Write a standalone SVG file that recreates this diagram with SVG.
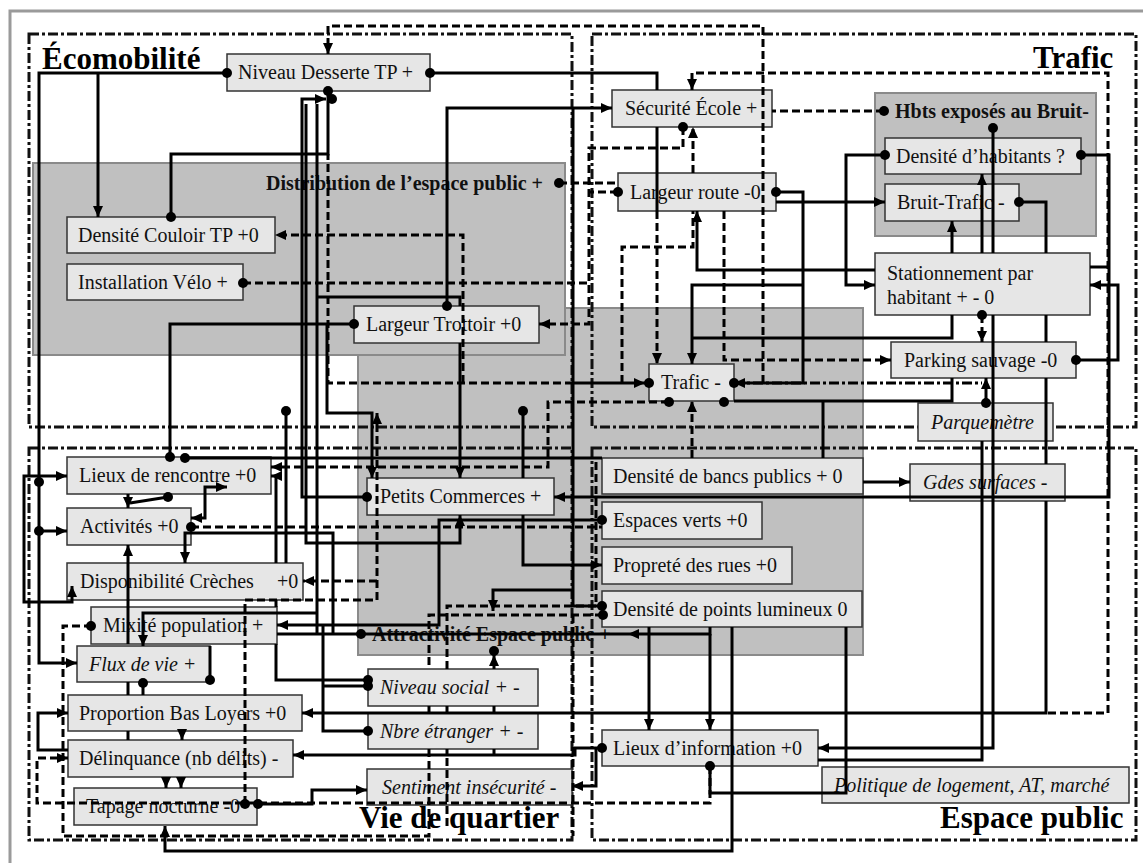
<svg xmlns="http://www.w3.org/2000/svg" width="1143" height="863" viewBox="0 0 1143 863">
<defs>
<style>
.zone{fill:#c0c0c0;stroke:#8a8a8a;stroke-width:2}
.frame{fill:none;stroke:#111;stroke-width:3;stroke-dasharray:10 3 3 3}
.node rect{fill:#e6e6e6;stroke:#333;stroke-width:1.5}
.node text{font-family:"Liberation Serif","Times New Roman",serif;font-size:20px;fill:#111}
.node text.it{font-style:italic}
.title{font-family:"Liberation Serif","Times New Roman",serif;font-size:31px;font-weight:bold;fill:#000}
.zlabel{font-family:"Liberation Serif","Times New Roman",serif;font-size:20px;font-weight:bold;fill:#111}
.s,.d,.dd{fill:none;stroke:#000;stroke-width:3}
.d{stroke-dasharray:8 4}
.dd{stroke-dasharray:10 3 3 3}
.a{marker-end:url(#arr)}
.o{marker-start:url(#dot)}
.oe{marker-end:url(#dot)}
.as{marker-start:url(#arr)}
</style>
<marker id="arr" viewBox="0 0 11 10" refX="11" refY="5" markerWidth="11" markerHeight="10" markerUnits="userSpaceOnUse" orient="auto-start-reverse"><path d="M0,0 L11,5 L0,10 z" fill="#000"/></marker>
<marker id="dot" viewBox="0 0 10 10" refX="5" refY="5" markerWidth="10" markerHeight="10" markerUnits="userSpaceOnUse"><circle cx="5" cy="5" r="5" fill="#000"/></marker>
</defs>

<rect width="1143" height="863" fill="#fff"/>
<path d="M10,863 V11 H1143" fill="none" stroke="#9a9a9a" stroke-width="3"/>

<!-- shaded zones -->
<g id="zone-attractivite"><rect class="zone" x="358" y="308" width="505" height="347"/></g>
<g id="zone-distribution"><rect class="zone" x="33" y="163" width="532" height="192"/>
<text class="zlabel" x="266" y="190">Distribution de l’espace public +</text></g>
<g id="zone-bruit"><rect class="zone" x="875" y="93" width="221" height="143"/>
<text class="zlabel" x="895" y="118">Hbts exposés au Bruit-</text></g>

<!-- theme frames -->
<g id="frames">
<rect class="frame" x="29" y="34" width="543" height="393"/>
<rect class="frame" x="592" y="34" width="544" height="393"/>
<rect class="frame" x="29" y="448" width="543" height="392"/>
<rect class="frame" x="592" y="448" width="544" height="392"/>
</g>

<!-- nodes -->
<g id="n-niveau-desserte" class="node"><rect x="227" y="54" width="203" height="37"/><text x="238" y="79">Niveau Desserte TP +</text></g>
<g id="n-couloir-tp" class="node"><rect x="67" y="217" width="208" height="36"/><text x="78" y="242">Densité Couloir TP +0</text></g>
<g id="n-velo" class="node"><rect x="67" y="264" width="176" height="36"/><text x="78" y="289">Installation Vélo +</text></g>
<g id="n-trottoir" class="node"><rect x="354" y="306" width="185" height="37"/><text x="366" y="331">Largeur Trottoir +0</text></g>
<g id="n-securite-ecole" class="node"><rect x="612" y="90" width="160" height="37"/><text x="625" y="115">Sécurité École +</text></g>
<g id="n-largeur-route" class="node"><rect x="618" y="173" width="158" height="38"/><text x="630" y="199">Largeur route -0</text></g>
<g id="n-densite-habitants" class="node"><rect x="885" y="138" width="196" height="36"/><text x="896" y="163">Densité d’habitants ?</text></g>
<g id="n-bruit-trafic" class="node"><rect x="885" y="184" width="134" height="37"/><text x="897" y="209">Bruit-Trafic -</text></g>
<g id="n-stationnement" class="node"><rect x="875" y="253" width="215" height="62"/><text x="887" y="280">Stationnement par</text><text x="887" y="304">habitant + - 0</text></g>
<g id="n-parking-sauvage" class="node"><rect x="891" y="342" width="185" height="36"/><text x="904" y="367">Parking sauvage -0</text></g>
<g id="n-parquemetre" class="node"><rect x="918" y="403" width="135" height="38"/><text class="it" x="931" y="429">Parquemètre</text></g>
<g id="n-trafic" class="node"><rect x="649" y="364" width="85" height="37"/><text x="661" y="389">Trafic -</text></g>
<g id="n-lieux-rencontre" class="node"><rect x="67" y="457" width="204" height="37"/><text x="79" y="482">Lieux de rencontre +0</text></g>
<g id="n-activites" class="node"><rect x="67" y="508" width="124" height="37"/><text x="80" y="533">Activités +0</text></g>
<g id="n-petits-commerces" class="node"><rect x="367" y="478" width="187" height="37"/><text x="380" y="503">Petits Commerces +</text></g>
<g id="n-bancs" class="node"><rect x="602" y="458" width="261" height="36"/><text x="613" y="483">Densité de bancs publics + 0</text></g>
<g id="n-espaces-verts" class="node"><rect x="602" y="502" width="160" height="37"/><text x="613" y="527">Espaces verts +0</text></g>
<g id="n-proprete" class="node"><rect x="602" y="547" width="190" height="37"/><text x="613" y="572">Propreté des rues +0</text></g>
<g id="n-gdes-surfaces" class="node"><rect x="910" y="464" width="155" height="37"/><text class="it" x="923" y="489">Gdes surfaces -</text></g>
<g id="n-points-lumineux" class="node"><rect x="602" y="591" width="260" height="36"/><text x="613" y="616">Densité de points lumineux 0</text></g>
<g id="n-creches" class="node"><rect x="67" y="563" width="236" height="37"/><text x="80" y="588">Disponibilité Crèches</text><text x="277" y="588">+0</text></g>
<g id="n-mixite" class="node"><rect x="91" y="607" width="186" height="37"/><text x="103" y="632">Mixité population +</text></g>
<g id="n-flux-vie" class="node"><rect x="77" y="646" width="133" height="36"/><text class="it" x="89" y="671">Flux de vie +</text></g>
<g id="n-bas-loyers" class="node"><rect x="68" y="695" width="234" height="36"/><text x="79" y="720">Proportion Bas Loyers +0</text></g>
<g id="n-delinquance" class="node"><rect x="68" y="740" width="225" height="37"/><text x="79" y="765">Délinquance (nb délits) -</text></g>
<g id="n-tapage" class="node"><rect x="74" y="788" width="183" height="37"/><text x="86" y="813">Tapage nocturne -0</text></g>
<g id="n-niveau-social" class="node"><rect x="368" y="669" width="170" height="37"/><text class="it" x="380" y="694">Niveau social + -</text></g>
<g id="n-etranger" class="node"><rect x="368" y="713" width="170" height="36"/><text class="it" x="380" y="738">Nbre étranger + -</text></g>
<g id="n-insecurite" class="node"><rect x="367" y="769" width="205" height="36"/><text class="it" x="382" y="794">Sentiment insécurité -</text></g>
<g id="n-lieux-info" class="node"><rect x="602" y="730" width="216" height="36"/><text x="613" y="755">Lieux d’information +0</text></g>
<g id="n-politique" class="node"><rect x="822" y="767" width="307" height="36"/><text class="it" x="834" y="792">Politique de logement, AT, marché</text></g>

<!-- theme titles -->
<g id="titles">
<text class="title" x="42" y="69">Écomobilité</text>
<text class="title" x="1033" y="68">Trafic</text>
<text class="title" x="359" y="828">Vie de quartier</text>
<text class="title" x="940" y="828">Espace public</text>
<text class="zlabel" x="372" y="641">Attractivité Espace public +</text>
</g>

<!-- connectors -->
<g id="connectors">
<path class="s o a" d="M227,73 H39 V663 H77"/>
<circle cx="39" cy="482" r="5"/><circle cx="39" cy="531" r="5"/>
<path class="s a" d="M98,73 V217"/>
<path class="s a" d="M39,531 H67"/>
<path class="s as a" d="M72,586 V602 H24 V476 H67"/>
<path class="s o oe" d="M171,217 V154 H328 V91"/>
<path class="d a" d="M763,383 V26 H328 V54"/>
<path class="s o" d="M430,73 H657 V90"/>
<path class="s" d="M657,127 V211"/>
<path class="d a" d="M657,211 V364"/>
<path class="s o a" d="M447,306 V108 H612"/>
<path class="s o" d="M602,606 H573 V108"/>
<path class="d o a" d="M683,127 V148 H589 V324 H539"/>
<path class="d" d="M622,383 V247 H693 V211"/>
<path class="d a" d="M693,173 V127"/>
<path class="d o" d="M884,111 H772"/>
<path class="d a" d="M1048,713 H1108 V73 H692 V90"/>
<path class="d o" d="M559,183 H618"/>
<path class="d o" d="M618,192 H589"/>
<path class="d o" d="M243,283 H589"/>
<path class="s o a" d="M776,192 H803 V383 H734"/>
<path class="s a" d="M776,202 H885"/>
<path class="s a" d="M803,285 H692 V364"/>
<path class="s a" d="M875,270 H697 V211"/>
<path class="d a" d="M724,211 V360 H891"/>
<path class="s o a" d="M885,155 H846 V285 H875"/>
<path class="s o" d="M993,128 V253"/>
<path class="s a" d="M993,315 V748 H818"/>
<path class="s a" d="M982,253 V174"/>
<path class="s" d="M818,760 H982 V441"/>
<path class="d o a" d="M982,315 V342"/>
<path class="s o a" d="M986,403 V378"/>
<path class="s a" d="M952,253 V221"/>
<path class="s o" d="M1019,202 H1046 V253"/>
<path class="s" d="M1046,315 V342 M1046,378 V464"/>
<path class="s a" d="M1046,501 V713 H302"/>
<path class="s o a" d="M1081,155 H1109 V497 H554"/>
<path class="s" d="M1090,267 H1109"/>
<path class="s o a" d="M1076,360 H1118 V285 H1090"/>
<path class="s" d="M952,315 V338 H692"/>
<path class="s" d="M952,378 V401 H734"/>
<path class="dd" d="M734,383 H982"/>
<path class="s a" d="M863,482 H910"/>
<path class="s" d="M823,401 V458"/>
<path class="d" d="M573,383 H328 V154"/>
<path class="s a" d="M573,383 H645"/>
<circle cx="649" cy="383" r="5"/><circle cx="734" cy="383" r="5"/><circle cx="724" cy="402" r="5"/>
<path class="d a" d="M463,383 V235 H275"/>
<path class="d o a" d="M669,402 H548 V467 H271"/>
<path class="d a" d="M692,458 V401"/>
<path class="s o oe" d="M354,324 H170 V457"/>
<path class="s a" d="M327,324 V413 H372 V478"/>
<path class="s a" d="M460,343 V478"/>
<path class="s o a" d="M367,497 H302 V99 H326"/>
<circle cx="332" cy="99" r="5"/>
<path class="s" d="M317,104 V634"/>
<path class="s a" d="M306,104 V543 H460 V515"/>
<path class="s" d="M317,297 H460 V306"/>
<path class="s o" d="M185,458 H602"/>
<path class="s a" d="M128,494 V508"/>
<path class="s o" d="M168,497 L130,503"/>
<path class="s as a" d="M227,487 H205 V518 H191"/>
<path class="d o" d="M191,527 H602"/>
<path class="s a" d="M333,634 V533 H185 V563"/>
<path class="s o" d="M368,680 H276 V644"/>
<path class="s" d="M276,607 V600"/>
<path class="s a" d="M276,563 V476 H271"/>
<path class="s o" d="M286,411 V563"/>
<path class="s o" d="M523,411 V478"/>
<path class="s a" d="M523,515 V565 H602"/>
<path class="d o a" d="M245,804 V600 H377 V413"/>
<path class="d a" d="M377,581 H303"/>
<path class="s as" d="M128,545 V644"/>
<path class="s" d="M128,682 V695 M128,731 V740"/>
<path class="s o a" d="M602,520 H439 V625 H277"/>
<path class="s a" d="M317,613 H143 V646"/>
<path class="s o" d="M143,683 V695"/>
<path class="s a" d="M68,750 H38 V713 H68"/>
<path class="s a" d="M166,777 V788"/>
<path class="s a" d="M181,777 V788"/>
<path class="s a" d="M182,731 V740"/>
<path class="s oe" d="M210,646 V680"/>
<path class="s o" d="M368,731 H323 V625"/>
<path class="s o" d="M368,686 H323"/>
<path class="s oe" d="M277,634 H361"/>
<path class="s" d="M361,634 H628"/>
<path class="s a" d="M710,627 V634 H628"/>
<path class="s a" d="M710,634 V730"/>
<path class="s a" d="M649,627 V730"/>
<path class="s a" d="M732,627 V851 H165 V826"/>
<path class="s o" d="M710,766 V793 H846 V627"/>
<path class="s o a" d="M602,748 H575 V755 H293"/>
<path class="s a" d="M596,748 V786 H572"/>
<path class="s" d="M494,755 V749 M494,713 V706"/>
<path class="s a" d="M494,669 V655"/>
<circle cx="494" cy="651" r="5"/>
<path class="s a" d="M573,590 H493 V611"/>
<path class="s o a" d="M258,804 H312 V790 H367"/>
<path class="d a" d="M710,766 V803 H37 V758 H68"/>
<path class="d o" d="M603,615 H429 V669"/>
<path class="d" d="M429,706 V713"/>
<path class="d oe" d="M429,749 V836 H63 V626 H91"/>
<path class="d" d="M573,615 V836"/>
<path class="d" d="M447,826 V749 M447,713 V706"/>
<path class="d" d="M447,669 V606 H596 V458"/>
</g>
</svg>
